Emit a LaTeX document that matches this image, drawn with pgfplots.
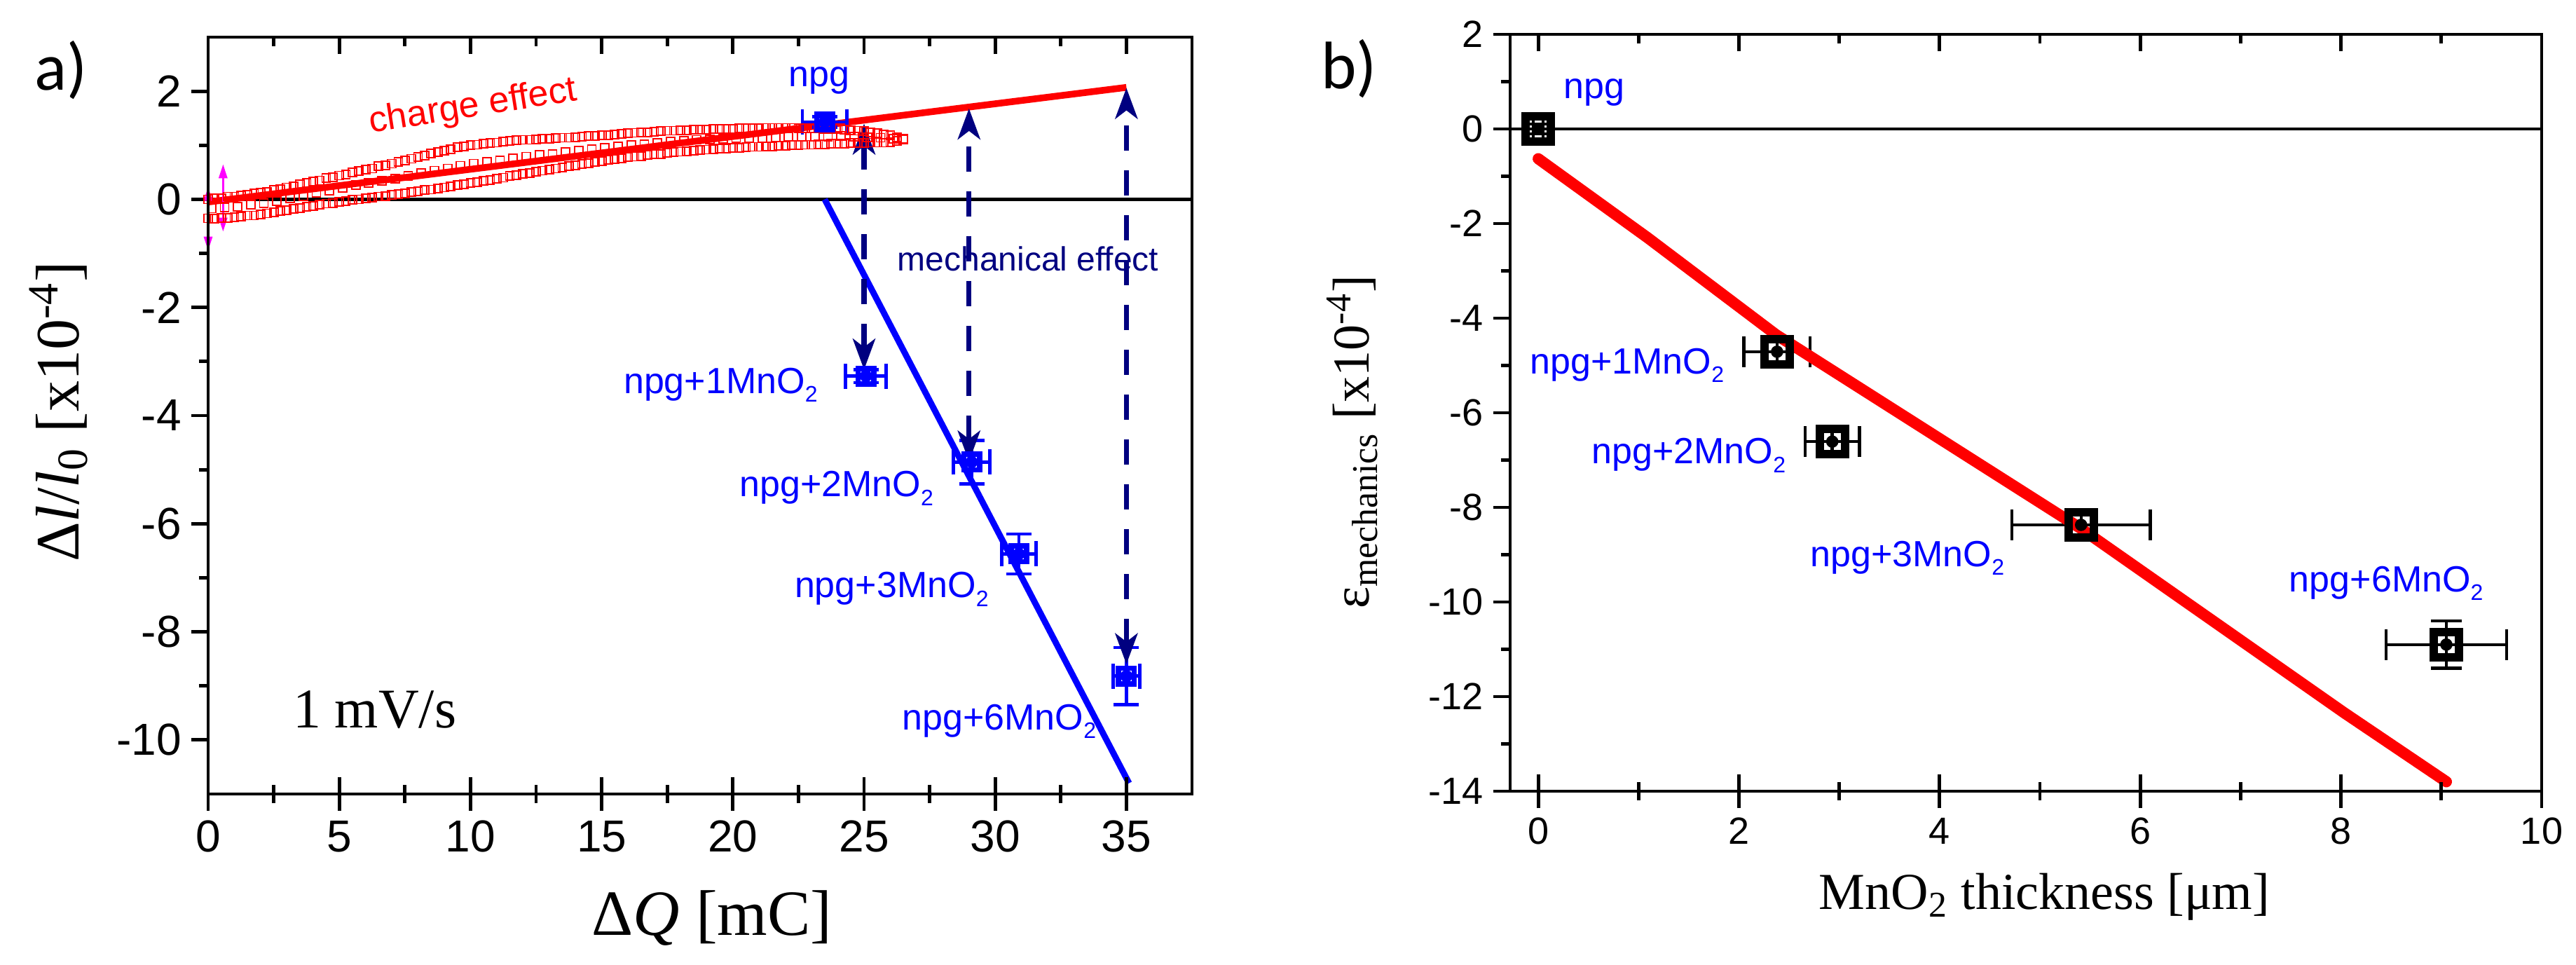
\documentclass[border=0pt]{standalone}
\usepackage{fontspec}
\setmainfont{Liberation Serif}
\newfontfamily\arial{Liberation Sans}
\newfontfamily\calibri{Carlito}
\usepackage{pgfplots}
\usepackage{pgfplotstable}
\pgfplotsset{compat=1.18}
\usetikzlibrary{arrows.meta}
\definecolor{navy}{RGB}{0,0,128}
\definecolor{pblue}{RGB}{0,0,255}
\definecolor{pred}{RGB}{255,0,0}
\definecolor{pmag}{RGB}{255,0,255}
\newcommand\sub[1]{\raisebox{-0.45ex}{\fontsize{8}{8}\selectfont #1}}

\pgfplotstableread{
x y
0.00 0.00
0.25 0.02
0.50 0.02
0.75 0.05
1.00 0.05
1.25 0.07
1.50 0.08
1.75 0.11
2.00 0.12
2.25 0.14
2.50 0.17
2.75 0.19
3.00 0.22
3.25 0.24
3.50 0.28
3.75 0.30
4.00 0.33
4.25 0.35
4.50 0.39
4.75 0.41
5.00 0.44
5.25 0.46
5.50 0.50
5.75 0.52
6.00 0.55
6.25 0.57
6.50 0.61
6.75 0.63
7.00 0.66
7.25 0.69
7.50 0.72
7.75 0.75
8.00 0.78
8.25 0.81
8.50 0.85
8.75 0.87
9.00 0.90
9.25 0.93
9.50 0.96
9.75 0.98
10.00 1.00
10.25 1.01
10.50 1.03
10.75 1.04
11.00 1.05
11.25 1.07
11.50 1.08
11.75 1.09
12.00 1.10
12.25 1.10
12.50 1.11
12.75 1.12
13.00 1.12
13.25 1.13
13.50 1.14
13.75 1.14
14.00 1.15
14.25 1.16
14.50 1.17
14.75 1.17
15.00 1.18
15.25 1.19
15.50 1.20
15.75 1.21
16.00 1.22
16.25 1.23
16.50 1.24
16.75 1.24
17.00 1.25
17.25 1.26
17.50 1.27
17.75 1.27
18.00 1.28
18.25 1.28
18.50 1.29
18.75 1.29
19.00 1.29
19.25 1.30
19.50 1.30
19.75 1.30
20.00 1.30
20.25 1.31
20.50 1.31
20.75 1.31
21.00 1.31
21.25 1.32
21.50 1.32
21.75 1.32
22.00 1.32
22.25 1.32
22.50 1.31
22.75 1.31
23.00 1.31
23.25 1.31
23.50 1.30
23.75 1.30
24.00 1.30
24.25 1.29
24.50 1.28
24.75 1.27
25.00 1.26
25.25 1.24
25.50 1.22
25.75 1.20
26.00 1.18
26.25 1.15
26.50 1.12
}\chargeup

\pgfplotstableread{
x y
0.125 -0.17
0.625 -0.15
1.125 -0.14
1.625 -0.10
2.125 -0.07
2.625 -0.03
3.125 0.02
3.625 0.06
4.125 0.12
4.625 0.16
5.125 0.21
5.625 0.26
6.125 0.30
6.625 0.34
7.125 0.38
7.625 0.43
8.125 0.48
8.625 0.53
9.125 0.57
9.625 0.62
10.125 0.66
10.625 0.69
11.125 0.72
11.625 0.76
12.125 0.79
12.625 0.82
13.125 0.84
13.625 0.87
14.125 0.90
14.625 0.93
15.125 0.95
15.625 0.98
16.125 1.00
16.625 1.02
17.125 1.04
17.625 1.07
18.125 1.08
18.625 1.10
19.125 1.11
19.625 1.12
20.125 1.13
20.625 1.14
21.125 1.14
21.625 1.15
22.125 1.16
22.625 1.16
23.125 1.16
23.625 1.16
24.125 1.17
24.625 1.16
25.125 1.15
25.625 1.14
26.125 1.12
}\chargemid

\pgfplotstableread{
x y
0.00 -0.35
0.25 -0.36
0.50 -0.34
0.75 -0.34
1.00 -0.33
1.25 -0.32
1.50 -0.30
1.75 -0.30
2.00 -0.28
2.25 -0.26
2.50 -0.24
2.75 -0.22
3.00 -0.20
3.25 -0.18
3.50 -0.16
3.75 -0.14
4.00 -0.12
4.25 -0.10
4.50 -0.08
4.75 -0.07
5.00 -0.05
5.25 -0.03
5.50 -0.01
5.75 0.00
6.00 0.02
6.25 0.03
6.50 0.05
6.75 0.06
7.00 0.08
7.25 0.10
7.50 0.11
7.75 0.13
8.00 0.15
8.25 0.17
8.50 0.18
8.75 0.20
9.00 0.22
9.25 0.24
9.50 0.26
9.75 0.28
10.00 0.30
10.25 0.32
10.50 0.34
10.75 0.36
11.00 0.38
11.25 0.40
11.50 0.43
11.75 0.45
12.00 0.47
12.25 0.49
12.50 0.51
12.75 0.53
13.00 0.55
13.25 0.57
13.50 0.59
13.75 0.61
14.00 0.63
14.25 0.65
14.50 0.67
14.75 0.69
15.00 0.71
15.25 0.73
15.50 0.74
15.75 0.76
16.00 0.78
16.25 0.79
16.50 0.80
16.75 0.82
17.00 0.83
17.25 0.84
17.50 0.86
17.75 0.87
18.00 0.88
18.25 0.89
18.50 0.90
18.75 0.91
19.00 0.92
19.25 0.93
19.50 0.94
19.75 0.94
20.00 0.95
20.25 0.95
20.50 0.96
20.75 0.97
21.00 0.97
21.25 0.98
21.50 0.98
21.75 0.99
22.00 0.99
22.25 1.00
22.50 1.00
22.75 1.01
23.00 1.01
23.25 1.02
23.50 1.02
23.75 1.03
24.00 1.03
24.25 1.03
24.50 1.04
24.75 1.04
25.00 1.04
25.25 1.05
25.50 1.05
25.75 1.05
26.00 1.06
26.25 1.08
26.50 1.10
}\chargedown

\pgfplotsset{
  base/.style={
    scale only axis, clip=false,
    axis line style={line width=1.2pt},
    every tick/.style={line width=1.2pt, black},
    major tick length=6pt, minor tick length=3.3pt,
    /pgf/number format/assume math mode=true,
  },
  overlay/.style={
    base, tick align=inside, xtick pos=both, xticklabels={}, ytick=\empty,
  },
}

\begin{document}
\begin{tikzpicture}
\useasboundingbox (0,0) rectangle (919pt,344.25pt);

% ---------------- panel a ----------------
\begin{axis}[base,
  at={(74.25pt,61pt)}, anchor=south west, width=351pt, height=270pt,
  xmin=0, xmax=37.5, ymin=-11, ymax=3,
  xtick={0,5,...,35}, ytick={-10,-8,...,2},
  minor x tick num=1, minor y tick num=1,
  tick align=outside, xtick pos=bottom, ytick pos=left,
  tick label style={font=\arial\fontsize{16}{16}\selectfont},
  xlabel={\fontsize{23}{23}\selectfont Δ\textit{Q} [mC]},
  xlabel style={at={(axis description cs:0.512,-0.164)}, anchor=center},
  ylabel={\fontsize{22}{22}\selectfont Δ\textit{l}/\textit{l}\textsubscript{0} [x10\textsuperscript{-4}]},
  ylabel style={at={(axis description cs:-0.152,0.505)}, anchor=center},
]
\addplot[black, line width=1.2pt] coordinates {(0,0) (37.5,0)};
\addplot[pred, only marks, mark=square, mark size=1.5pt, line width=0.45pt] table {\chargeup};
\addplot[pred, only marks, mark=square, mark size=1.5pt, line width=0.45pt] table {\chargemid};
\addplot[pred, only marks, mark=square, mark size=1.5pt, line width=0.45pt] table {\chargedown};
\addplot[pred, line width=2.4pt] coordinates {(0,-0.05) (35,2.07)};
\addplot[pblue, line width=2.2pt] coordinates {(23.5,0) (35.1,-10.8)};
\addplot[pmag, line width=0.8pt, {Triangle[length=5pt,width=3pt]}-{Triangle[length=5pt,width=3pt]}] coordinates {(0,-0.95) (0,0.23)};
\addplot[pmag, line width=0.8pt, {Triangle[length=5pt,width=3pt]}-{Triangle[length=5pt,width=3pt]}] coordinates {(0.57,-0.6) (0.57,0.65)};
% error bars first, markers on top
\addplot[pblue, only marks, mark=none,
  error bars/.cd, x dir=both, x explicit, y dir=both, y explicit,
  error bar style={line width=1.2pt}, error mark options={rotate=90, line width=1.2pt, mark size=4.5pt}]
  coordinates {
  (23.5,1.43) +- (0.85,0.1)
  (25.07,-3.27) +- (0.77,0.12)
  (29.1,-4.86) +- (0.7,0.4)
  (30.9,-6.56) +- (0.65,0.37)
  (35.0,-8.82) +- (0.5,0.53)
  };
\addplot[pblue, only marks, mark=square, mark size=2.8pt, line width=1.9pt, mark options={fill=white}]
  coordinates {(23.5,1.43) (25.07,-3.27) (29.1,-4.86) (30.9,-6.56) (35.0,-8.82)};
\addplot[navy, line width=1.8pt, dash pattern=on 9pt off 7pt, {Stealth[length=11pt,width=8pt,inset=3pt]}-{Stealth[length=11pt,width=8pt,inset=3pt]}] coordinates {(25,-3.15) (25,1.4)};
\addplot[navy, line width=1.8pt, dash pattern=on 9pt off 7pt, {Stealth[length=11pt,width=8pt,inset=3pt]}-{Stealth[length=11pt,width=8pt,inset=3pt]}] coordinates {(29,-4.85) (29,1.68)};
\addplot[navy, line width=1.8pt, dash pattern=on 9pt off 7pt, {Stealth[length=11pt,width=8pt,inset=3pt]}-{Stealth[length=11pt,width=8pt,inset=3pt]}] coordinates {(35,-8.6) (35,2.06)};
\node[pred, rotate=9, font=\arial\fontsize{13}{13}\selectfont] at (axis cs:10.1,1.7) {charge effect};
\node[pblue, anchor=base, font=\arial\fontsize{13}{13}\selectfont] at (axis cs:23.3,2.08) {npg};
\node[navy, anchor=base, font=\arial\fontsize{12}{12}\selectfont] at (axis cs:31.25,-1.32) {mechanical effect};
\node[pblue, anchor=base east, font=\arial\fontsize{13}{13}\selectfont, inner sep=0pt] at (axis cs:23.25,-3.59) {npg+1MnO\sub{2}};
\node[pblue, anchor=base, font=\arial\fontsize{13}{13}\selectfont, inner sep=0pt] at (axis cs:23.95,-5.5) {npg+2MnO\sub{2}};
\node[pblue, anchor=base, font=\arial\fontsize{13}{13}\selectfont, inner sep=0pt] at (axis cs:26.05,-7.37) {npg+3MnO\sub{2}};
\node[pblue, anchor=base, font=\arial\fontsize{13}{13}\selectfont, inner sep=0pt] at (axis cs:30.15,-9.81) {npg+6MnO\sub{2}};
\node[black, anchor=base, font=\fontsize{20}{20}\selectfont] at (axis cs:6.35,-9.78) {1 mV/s};
\end{axis}
\begin{axis}[overlay,
  at={(74.25pt,61pt)}, anchor=south west, width=351pt, height=270pt,
  xmin=0, xmax=37.5, ymin=-11, ymax=3,
  xtick={0,5,...,35}, minor x tick num=1]
\end{axis}

% ---------------- panel b ----------------
\begin{axis}[base,
  at={(538.75pt,62pt)}, anchor=south west, width=368pt, height=270pt,
  xmin=-0.28, xmax=10, ymin=-14, ymax=2,
  xtick={0,2,...,10}, ytick={-14,-12,...,2},
  minor x tick num=1, minor y tick num=1,
  tick align=outside, xtick pos=bottom, ytick pos=left,
  tick label style={font=\arial\fontsize{13.5}{13.5}\selectfont},
  xlabel={\fontsize{18.5}{18.5}\selectfont MnO\textsubscript{2} thickness [μm]},
  xlabel style={at={(axis description cs:0.518,-0.14)}, anchor=center},
  ylabel={\fontsize{18.5}{18.5}\selectfont ε\textsubscript{mechanics} [x10\textsuperscript{-4}]},
  ylabel style={at={(axis description cs:-0.153,0.461)}, anchor=center},
]
\addplot[black, line width=1.2pt] coordinates {(-0.28,0) (10,0)};
\addplot[black, only marks, mark=none,
  error bars/.cd, x dir=both, x explicit, y dir=both, y explicit,
  error bar style={line width=1.1pt}, error mark options={rotate=90, line width=1.1pt, mark size=5.5pt}]
  coordinates {
  (0,0) +- (0.05,0.1)
  (2.38,-4.71) +- (0.33,0.25)
  (2.93,-6.61) +- (0.27,0.3)
  (5.41,-8.37) +- (0.69,0.3)
  (9.05,-10.9) +- (0.6,0.5)
  };
\addplot[black, only marks, mark=square, mark size=4.5pt, line width=3pt, mark options={fill=white}]
  coordinates {(0,0) (2.38,-4.71) (2.93,-6.61) (5.41,-8.37) (9.05,-10.9)};
\addplot[pred, line width=4pt, line cap=round] coordinates {(0,-0.63) (1.09,-2.3) (2.37,-4.35) (5.41,-8.45) (8.03,-12.34) (9.05,-13.8)};
\node[pblue, anchor=base, font=\arial\fontsize{13}{13}\selectfont] at (axis cs:0.56,0.64) {npg};
\node[pblue, anchor=base, font=\arial\fontsize{13}{13}\selectfont, inner sep=0pt] at (axis cs:0.885,-5.18) {npg+1MnO\sub{2}};
\node[pblue, anchor=base, font=\arial\fontsize{13}{13}\selectfont, inner sep=0pt] at (axis cs:1.5,-7.08) {npg+2MnO\sub{2}};
\node[pblue, anchor=base east, font=\arial\fontsize{13}{13}\selectfont, inner sep=0pt] at (axis cs:4.65,-9.25) {npg+3MnO\sub{2}};
\node[pblue, anchor=base west, font=\arial\fontsize{13}{13}\selectfont, inner sep=0pt] at (axis cs:7.48,-9.78) {npg+6MnO\sub{2}};
\end{axis}
\begin{axis}[overlay,
  at={(538.75pt,62pt)}, anchor=south west, width=368pt, height=270pt,
  xmin=-0.28, xmax=10, ymin=-14, ymax=2,
  xtick={0,2,...,10}, minor x tick num=1]
\end{axis}

\node[font=\calibri\fontsize{24}{24}\selectfont] at (21.75pt,319.25pt) {a)};
\node[font=\calibri\fontsize{24}{24}\selectfont] at (481.25pt,319.75pt) {b)};
\end{tikzpicture}
\end{document}
